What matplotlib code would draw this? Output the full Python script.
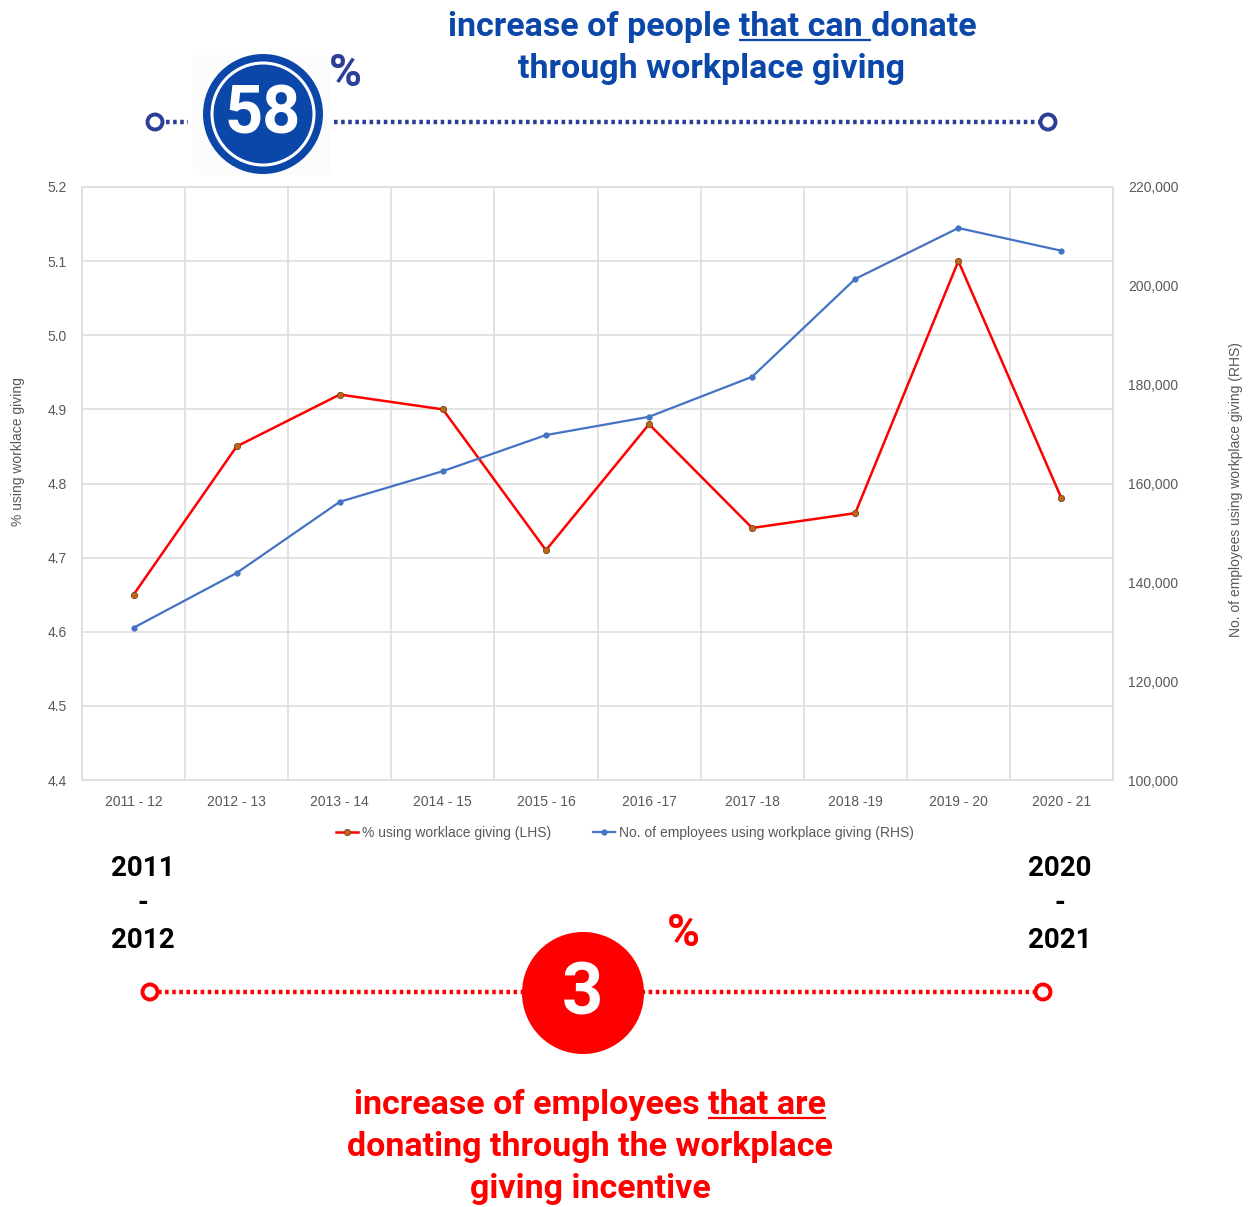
import matplotlib
matplotlib.use('Agg')
import matplotlib.pyplot as plt
from matplotlib import font_manager as fm
from matplotlib.patches import Circle, Rectangle
from matplotlib.lines import Line2D
from matplotlib.ticker import FuncFormatter

# ---------------- data ----------------
categories = ['2011 - 12', '2012 - 13', '2013 - 14', '2014 - 15', '2015 - 16',
              '2016 -17', '2017 -18', '2018 -19', '2019 - 20', '2020 - 21']
pct_using = [4.65, 4.85, 4.92, 4.90, 4.71, 4.88, 4.74, 4.76, 5.10, 4.78]
employees = [130800, 141900, 156300, 162500, 169800, 173500, 181600, 201400, 211700, 207100]
left_ticks = [4.4, 4.5, 4.6, 4.7, 4.8, 4.9, 5.0, 5.1, 5.2]
right_ticks = [100000, 120000, 140000, 160000, 180000, 200000, 220000]
label_lhs = '% using worklace giving (LHS)'
label_rhs = 'No. of employees using workplace giving (RHS)'

W, H = 1252, 1207
names = {f.name for f in fm.fontManager.ttflist}


def pick(cands):
    for c in cands:
        if c in names:
            return c
    return 'DejaVu Sans'


HEAD = pick(['Liberation Sans Narrow', 'DejaVu Sans Condensed', 'Roboto', 'Open Sans'])
CHART = pick(['Liberation Sans', 'Arimo', 'DejaVu Sans'])

fig = plt.figure(figsize=(W / 100, H / 100), dpi=100)
fig.patch.set_facecolor('white')

# ---------------- chart ----------------
ax = fig.add_axes([82 / W, 1 - 780 / H, (1113 - 82) / W, (780 - 187) / H])
xpos = [i + 0.5 for i in range(len(categories))]
grid_c = '#e0e0e0'
tick_c = '#595959'

ax.plot(xpos, pct_using, color='#ff0000', lw=1.8, marker='o', ms=4.5,
        mfc='#c0651a', mec='#7a4210', mew=0.6, zorder=3)
ax.set_xlim(0, len(categories))
ax.set_ylim(left_ticks[0], left_ticks[-1])
ax.set_yticks(left_ticks)
ax.set_yticklabels([f'{v:.1f}' for v in left_ticks])
ax.set_xticks(xpos)
ax.set_xticklabels(categories)
ax.set_xticks(range(1, len(categories)), minor=True)
ax.grid(which='major', axis='y', color=grid_c, lw=1.3)
ax.grid(which='minor', axis='x', color=grid_c, lw=1.3)
ax.tick_params(which='both', length=0)
ax.tick_params(axis='y', pad=11, labelsize=10, labelcolor=tick_c)
ax.tick_params(axis='x', pad=11, labelsize=10, labelcolor=tick_c)
for lab in ax.get_xticklabels() + ax.get_yticklabels():
    lab.set_fontfamily(CHART)

ax2 = ax.twinx()
ax2.plot(xpos, employees, color='#4472c4', lw=1.6, marker='o', ms=3.5,
         mfc='#4472c4', mec='#4472c4', zorder=3)
ax2.set_ylim(right_ticks[0], right_ticks[-1])
ax2.set_yticks(right_ticks)
ax2.yaxis.set_major_formatter(FuncFormatter(lambda v, p: f'{int(v):,}'))
ax2.tick_params(length=0, pad=11, labelsize=10, labelcolor=tick_c)
for lab in ax2.get_yticklabels():
    lab.set_fontfamily(CHART)
for a in (ax, ax2):
    for s in a.spines.values():
        s.set_color(grid_c)
        s.set_linewidth(1.3)

fig.text(18 / W, 1 - 452 / H, '% using worklace giving', rotation=90, ha='center',
         va='center', fontsize=10, color=tick_c, family=CHART)
fig.text(1236 / W, 1 - 490 / H, label_rhs, rotation=90, ha='center',
         va='center', fontsize=10, color=tick_c, family=CHART)

h1 = Line2D([], [], color='#ff0000', lw=1.8, marker='o', ms=4.5, mfc='#c0651a', mec='#7a4210', mew=0.6)
h2 = Line2D([], [], color='#4472c4', lw=1.6, marker='o', ms=3.5)
fig.legend([h1, h2], [label_lhs, label_rhs], loc='center',
           bbox_to_anchor=(625 / W, 1 - 833 / H), ncol=2, frameon=False,
           prop={'family': CHART, 'size': 10}, labelcolor=tick_c,
           handlelength=1.6, handletextpad=0.3, columnspacing=3.0)

# ---------------- infographic overlay ----------------
ov = fig.add_axes([0, 0, 1, 1])
ov.set_xlim(0, W)
ov.set_ylim(H, 0)
ov.axis('off')
ov.patch.set_alpha(0)

blue = '#0b47a8'
navy = '#2b3f98'
red = '#ff0000'
dot = dict(lw=3.2, ls=(0, (0.8, 0.8)), solid_capstyle='butt', dash_capstyle='butt')

# blue timeline
ov.add_patch(Rectangle((193, 55), 137, 120, fc='#fcfcfc', ec='none', zorder=1))
ov.plot([166, 188], [122, 122], color=navy, zorder=2, **dot)
ov.plot([334, 1040], [122, 122], color=navy, zorder=2, **dot)
for cx in (155, 1048):
    ov.add_patch(Circle((cx, 122), 7.5, fc='white', ec=navy, lw=2.8, zorder=3))
ov.add_patch(Circle((263, 114), 60, fc=blue, ec='none', zorder=3))
ov.add_patch(Circle((263, 114), 51, fill=False, ec='white', lw=2.2, zorder=4))
ov.text(263, 116, '58', color='white', ha='center', va='center', fontsize=48,
        fontweight='bold', family=HEAD, zorder=5)
ov.text(345, 74, '%', color=navy, ha='center', va='center', fontsize=32,
        fontweight='bold', family=HEAD, zorder=5)

# red timeline
ov.plot([158, 1036], [992, 992], color=red, zorder=2, **dot)
for cx in (150, 1043):
    ov.add_patch(Circle((cx, 992), 7.5, fc='white', ec=red, lw=2.8, zorder=3))
ov.add_patch(Circle((583, 993), 61, fc=red, ec='none', zorder=3))
ov.text(583, 995, '3', color='white', ha='center', va='center', fontsize=52,
        fontweight='bold', family=HEAD, zorder=5)
ov.text(683, 934, '%', color=red, ha='center', va='center', fontsize=32,
        fontweight='bold', family=HEAD, zorder=5)

# year labels
for cx, lines in ((143, ('2011', '-', '2012')), (1060, ('2020', '-', '2021'))):
    for y, s in zip((868, 904, 940), lines):
        ov.text(cx, y, s, color='black', ha='center', va='center', fontsize=20,
                fontweight='bold', family=HEAD)

fig.canvas.draw()
renderer = fig.canvas.get_renderer()


def textw(s, **kw):
    t = ov.text(0, 0, '|' + s + '|', **kw)
    w1 = t.get_window_extent(renderer).width
    t.remove()
    t = ov.text(0, 0, '||', **kw)
    w2 = t.get_window_extent(renderer).width
    t.remove()
    return w1 - w2


def headline(cx, y, pre, mid, post, color, size):
    kw = dict(fontsize=size, fontweight='bold', family=HEAD)
    full = pre + mid + post
    ov.text(cx, y, full, color=color, ha='center', va='baseline', **kw)
    if mid:
        wt = textw(full, **kw)
        x0 = cx - wt / 2
        a = x0 + textw(pre, **kw)
        b = x0 + textw(pre + mid, **kw)
        ov.plot([a, b], [y + 4, y + 4], color=color, lw=1.6, solid_capstyle='butt')


headline(712, 36, 'increase of people ', 'that can ', 'donate', blue, 24.5)
headline(712, 78, 'through workplace giving', '', '', blue, 24.5)
headline(590, 1114, 'increase of employees ', 'that are', '', red, 24.5)
headline(590, 1156, 'donating through the workplace', '', '', red, 24.5)
headline(590, 1198, 'giving incentive', '', '', red, 24.5)

fig.savefig('out.png', dpi=100, facecolor='white')
